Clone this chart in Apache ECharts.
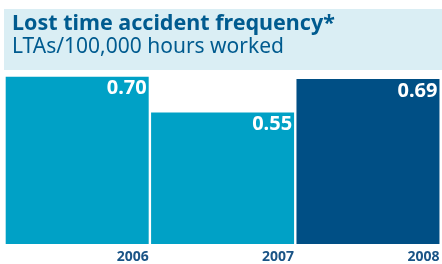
<!DOCTYPE html>
<html><head><meta charset="utf-8">
<script src="https://cdn.jsdelivr.net/npm/echarts@6/dist/echarts.min.js"></script>
<style>html,body{margin:0;padding:0;background:#fff}#c{width:442px;height:264px}</style>
</head><body><div id="c"></div>
<script>
const categories = ['2006', '2007', '2008'];
const values = [0.70, 0.55, 0.69];
const barColors = ['#00a1c6', '#00a1c6', '#004f85'];
const titleText = 'Lost time accident frequency*';
const subtitleText = 'LTAs/100,000 hours worked';

const chart = echarts.init(document.getElementById('c'), null, {renderer: 'canvas'});
chart.setOption({
  animation: false,
  graphic: [{type: 'rect', left: 4, top: 9, shape: {width: 438, height: 61}, style: {fill: '#daeef4'}, z: -1}],
  title: {
    text: titleText, subtext: subtitleText, left: 7, top: 8, itemGap: 2,
    textStyle: {fontFamily: 'Noto Sans', fontWeight: 'bold', fontSize: 21.5, color: '#005b8f'},
    subtextStyle: {fontFamily: 'Noto Sans', fontWeight: 'normal', fontSize: 21, color: '#005b8f'}
  },
  grid: {left: 4.5, right: -1.5, top: 5, bottom: 20},
  xAxis: {
    type: 'category', data: categories,
    axisLine: {show: false}, axisTick: {show: false},
    axisLabel: {
      margin: 6, align: 'center',
      formatter: v => '{a|' + v + '}',
      rich: {a: {width: 143, align: 'right', fontFamily: 'Noto Sans', fontWeight: 'bold', fontSize: 14, color: '#1a5486'}}
    }
  },
  yAxis: {type: 'value', min: 0, max: 1, show: false, splitLine: {show: false}},
  series: [{
    type: 'bar', barWidth: 143,
    data: values.map((v, i) => ({value: v, itemStyle: {color: barColors[i]}})),
    label: {
      show: true, position: 'insideTopRight', distance: 2,
      formatter: p => p.value.toFixed(2),
      fontFamily: 'Noto Sans', fontWeight: 'bold', fontSize: 20, color: '#fff'
    }
  }]
});
</script></body></html>
